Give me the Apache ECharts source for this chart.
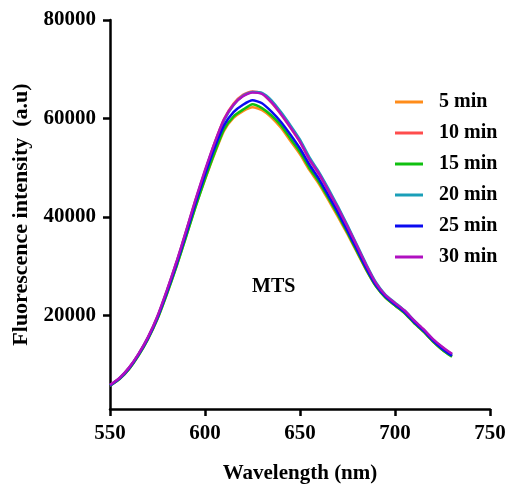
<!DOCTYPE html>
<html>
<head>
<meta charset="utf-8">
<script src="https://cdn.jsdelivr.net/npm/echarts@6/dist/echarts.min.js"></script>
<style>html,body{margin:0;padding:0;background:#fff}#c{width:510px;height:484px}</style>
</head>
<body>
<div id="c"></div>
<script>
const wavelengths = [550,555,560,565,570,575,580,585,590,595,600,605,610,615,620,625,630,635,640,645,650,655,660,665,670,675,680,685,690,695,700,705,710,715,720,725,730];
const seriesNames = ['5 min','10 min','15 min','20 min','25 min','30 min'];
const seriesColors = ['#FF8C1A','#FF4D4D','#10C010','#1A9FB8','#0A0AF0','#B010C0'];
const min5  = [5800,7100,9100,11900,15250,19350,24450,30000,36000,42100,47600,52800,57500,60100,61500,62300,61700,60200,58100,55400,52700,49500,46700,43400,40000,36500,32800,29100,25900,23600,22000,20500,18500,16700,14700,13000,11700];
const min10 = [5850,7250,9350,12150,15550,19800,25100,30800,37000,43400,49300,55000,59900,63000,64800,65500,65100,63200,60800,58100,55200,51600,48700,45200,41700,37900,34000,30000,26500,24000,22400,20900,18900,17100,15100,13500,12100];
const min15 = [5750,7100,9100,11850,15200,19300,24400,29900,35900,42000,47700,53000,57800,60400,61800,62900,62100,60600,58600,55900,53200,49900,47100,43800,40400,36800,33000,29200,25900,23600,22000,20500,18500,16700,14700,13000,11600];
const min20 = [5800,7200,9300,12100,15500,19700,25000,30700,36900,43200,49200,54800,59600,62700,64600,65400,65200,63700,61300,58600,55700,52100,49100,45700,42100,38300,34300,30300,26700,24200,22600,21000,19000,17100,15100,13400,12000];
const min25 = [5800,7200,9250,12050,15400,19600,24800,30400,36500,42800,48600,54000,58600,61300,62800,63700,63100,61400,59300,56700,53900,50600,47700,44300,40900,37200,33400,29500,26100,23800,22200,20700,18700,16900,14900,13200,11800];
const min30 = [5900,7300,9400,12200,15600,19900,25200,30900,37100,43500,49500,55000,59800,62800,64500,65300,65000,63300,60900,58200,55300,51700,48800,45300,41800,38000,34100,30100,26500,24100,22500,21000,19000,17200,15200,13600,12200];
const allValues = [min5,min10,min15,min20,min25,min30];
const xTicks = [550,600,650,700,750];
const yTicks = [20000,40000,60000,80000];

const font = 'Liberation Serif';
const chart = echarts.init(document.getElementById('c'));
const series = seriesNames.map((n,i)=>({
  name:n, type:'line', showSymbol:false, smooth:0.2,
  lineStyle:{width:2.5,color:seriesColors[i]}, itemStyle:{color:seriesColors[i]},
  data: wavelengths.map((w,j)=>[w, allValues[i][j]])
}));
chart.setOption({
  animation:false,
  backgroundColor:'#fff',
  grid:{left:110,right:20,top:20,bottom:75,containLabel:false,outerBoundsMode:'none'},
  legend:{
    orient:'vertical', left:395, top:92, itemGap:11, padding:0,
    icon:'rect', itemWidth:28, itemHeight:3,
    textStyle:{fontFamily:font,fontWeight:'bold',fontSize:20,color:'#000',padding:[0,0,0,11]},
    data:seriesNames
  },
  xAxis:{
    type:'value', min:550, max:750, interval:50,
    name:'Wavelength (nm)', nameLocation:'middle', nameGap:54,
    nameTextStyle:{fontFamily:font,fontWeight:'bold',fontSize:21,color:'#000'},
    splitLine:{show:false},
    axisLine:{lineStyle:{color:'#000',width:2.5}},
    axisTick:{length:7,lineStyle:{color:'#000',width:2.5}},
    axisLabel:{margin:14,fontFamily:font,fontWeight:'bold',fontSize:21,color:'#000',
      customValues:xTicks},
  },
  yAxis:{
    type:'value', min:1000, max:80000,
    name:'Fluorescence intensity  (a.u)', nameLocation:'middle', nameGap:74,
    nameTextStyle:{fontFamily:font,fontWeight:'bold',fontSize:22,color:'#000'},
    splitLine:{show:false},
    axisLine:{show:true,lineStyle:{color:'#000',width:2.5}},
    axisTick:{show:true,length:7,lineStyle:{color:'#000',width:2.5},customValues:yTicks},
    axisLabel:{margin:14,fontFamily:font,fontWeight:'bold',fontSize:21,color:'#000',customValues:yTicks,
      formatter:v=>String(v)},
  },
  graphic:[{type:'text',left:252,top:277,style:{text:'MTS',font:'bold 20px "Liberation Serif"',fill:'#000'}}],
  series: series
});
</script>
</body>
</html>
